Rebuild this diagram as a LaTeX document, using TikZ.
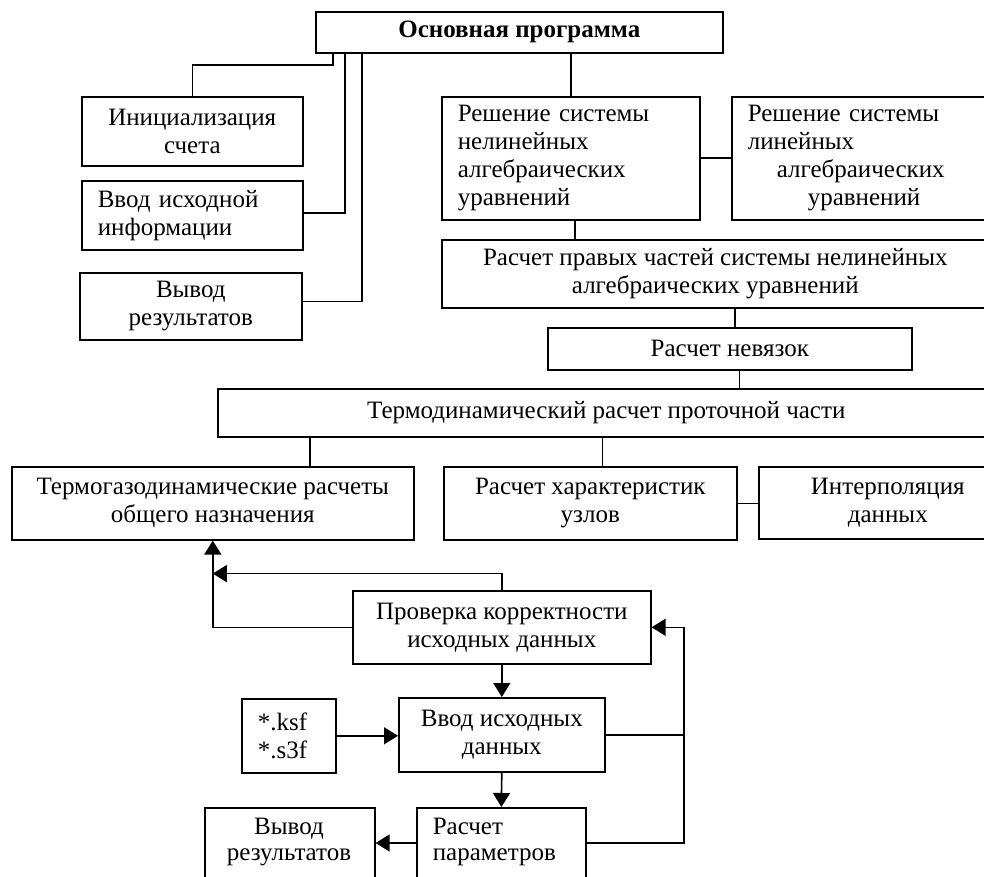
\documentclass[tikz,border=0pt]{standalone}
\usepackage{fontspec}
\setmainfont{Liberation Serif}
\usetikzlibrary{arrows.meta,calc}
\newcommand\bx[6][]{\node[box,anchor=north west,minimum width={#4-#2},minimum height={#5-#3},#1] (#6) at (#2,#3)}
\begin{document}
\begin{tikzpicture}[x=1pt,y=-1pt,line width=1.6pt,
  box/.style={draw,inner sep=0pt,font=\fontsize{25}{28}\selectfont,align=center},
  lbox/.style={align=left},
  txt/.style={inner sep=0pt,font=\fontsize{25}{26}\selectfont},
  arr/.style={-{Triangle[length=14pt,width=17pt]}}]
\useasboundingbox (0,0) rectangle (984,877);
% boxes
\bx{315}{11}{722}{52}{main} {\bfseries Основная программа};
\bx{81}{96}{302}{165}{init} {Инициализация\\счета};
\bx[lbox,text width=189]{81}{180}{302}{249}{vvodinfo} {Ввод исходной\\информации};
\bx{79}{272}{301}{339}{vyvodA} {Вывод\\результатов};
\bx[lbox,text width=226]{441}{96}{699}{219}{nonlin} {Решение системы\\нелинейных\\алгебраических\\уравнений};
\bx[lbox,text width=237]{731}{96}{1000}{219}{lin} {Решение системы\\линейных\\\hspace*{29pt}алгебраических\\\hspace*{60pt}уравнений};
\bx{441}{239}{988}{307}{rhs} {Расчет правых частей системы нелинейных\\алгебраических уравнений};
\bx{547}{327}{911}{369}{nevyaz} {Расчет невязок};
\bx{217}{388}{994}{436}{thermo} {Термодинамический расчет проточной части};
\bx{11}{466}{413}{539}{termogaz} {Термогазодинамические расчеты\\общего назначения};
\bx{443}{466}{736}{539}{uzly} {Расчет характеристик\\узлов};
\bx{758}{466}{1016}{538}{interp} {Интерполяция\\данных};
\bx{352}{590}{650}{663}{check} {Проверка корректности\\исходных данных};
\bx[lbox,text width=62]{241}{698}{335}{772}{ksf} {{*}.ksf\\{*}.s3f};
\bx{398}{697}{604}{771}{vvoddata} {Ввод исходных\\данных};
\bx{416}{807}{585}{900}{calc} {};
\bx{204}{807}{374}{900}{vyvodB} {};
\node[txt,align=left,anchor=north west] (calcT) at (432,817) {Расчет\\параметров};
\node[txt,align=center,anchor=north] (vyvodBT) at (289,817) {Вывод\\результатов};
% column coordinates
\coordinate (xa) at (333,0);
\coordinate (xb) at (345,0);
\coordinate (xc) at (362,0);
\coordinate (xd) at (571,0);
\coordinate (xe) at (575,0);
\coordinate (xf) at (735,0);
\coordinate (xg) at (739.5,0);
\coordinate (xh) at (310,0);
\coordinate (xi) at (602.5,0);
\coordinate (xk) at (684,0);
% top connectors
\draw (xa |- main.south) |- ($(init.north)+(0,-31)$) -- (init.north);
\draw (xb |- main.south) |- ($(vvodinfo.east)+(0,-2.5)$);
\draw (xc |- main.south) |- ($(vyvodA.east)+(0,-5)$);
\draw (xd |- main.south) -- (xd |- nonlin.north);
\draw (nonlin.east) -- (nonlin.east -| lin.west);
\draw (xe |- nonlin.south) -- (xe |- rhs.north);
\draw (xf |- rhs.south) -- (xf |- nevyaz.north);
\draw (xg |- nevyaz.south) -- (xg |- thermo.north);
\draw (xh |- thermo.south) -- (xh |- termogaz.north);
\draw (xi |- thermo.south) -- (xi |- uzly.north);
\draw (uzly.east) -- (uzly.east -| interp.west);
% bottom connectors
\draw[arr] (check.north) |- ($(termogaz.south)+(0,33)$);
\draw[arr] (check.west) -| (termogaz.south);
\draw[arr] (check.south) -- (vvoddata.north);
\draw[arr] (ksf.east) -- (ksf.east -| vvoddata.west);
\draw[arr] (vvoddata.east) -| (xk |- check.east) -- (check.east);
\draw ($(calc.north east)+(0,36)$) -| (xk |- vvoddata.east);
\draw[arr] (vvoddata.south) -- (calc.north);
\draw[arr] ($(calc.north west)+(0,36)$) -- ($(vyvodB.north east)+(0,36)$);
\end{tikzpicture}
\end{document}
